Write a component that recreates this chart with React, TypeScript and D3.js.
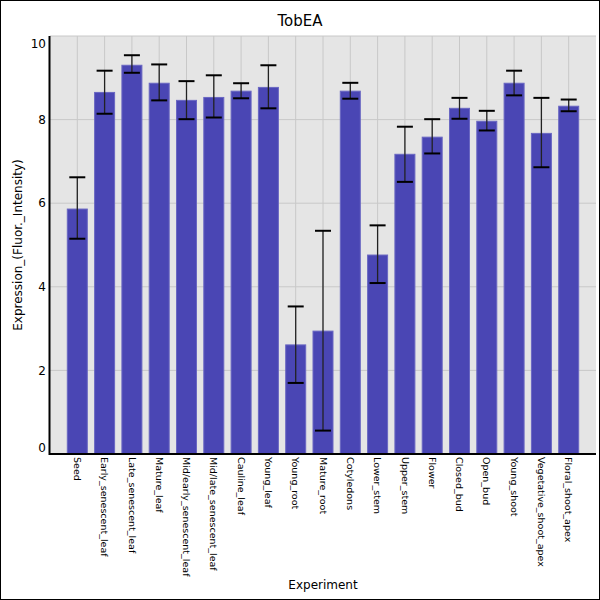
import { useEffect, useRef } from 'react';
import * as d3 from 'd3';

const experiments = [
  'Seed', 'Early_senescent_leaf', 'Late_senescent_leaf', 'Mature_leaf',
  'Mid/early_senescent_leaf', 'Mid/late_senescent_leaf', 'Cauline_leaf', 'Young_leaf',
  'Young_root', 'Mature_root', 'Cotyledons', 'Lower_stem', 'Upper_stem', 'Flower',
  'Closed_bud', 'Open_bud', 'Young_shoot', 'Vegetative_shoot_apex', 'Floral_shoot_apex',
];
const means = [5.86, 8.65, 9.3, 8.87, 8.46, 8.53, 8.68, 8.77, 2.61, 2.94, 8.68, 4.76, 7.17, 7.58, 8.27, 7.96, 8.87, 7.67, 8.32];
const upper = [6.62, 9.17, 9.54, 9.32, 8.92, 9.06, 8.87, 9.3, 3.53, 5.34, 8.88, 5.47, 7.83, 8.01, 8.52, 8.21, 9.17, 8.52, 8.48];
const lower = [5.15, 8.14, 9.12, 8.46, 8.01, 8.05, 8.51, 8.27, 1.7, 0.56, 8.5, 4.09, 6.51, 7.19, 8.02, 7.74, 8.58, 6.86, 8.2];
const yTicks = [0, 2, 4, 6, 8, 10];

const W = 600;
const H = 600;
const font = 'DejaVu Sans, sans-serif';

export default function App() {
  const ref = useRef<SVGSVGElement>(null);

  useEffect(() => {
    const svg = d3.select(ref.current);
    svg.selectAll('*').remove();

    const left = 50, right = 596, top = 36, bottom = 454;

    const x = d3.scaleLinear().domain([0, experiments.length + 1]).range([left, right]);
    const y = d3.scaleLinear().domain([0, 10]).range([bottom, top]);
    const barW = 20;

    svg.append('rect').attr('x', 0.5).attr('y', 0.5).attr('width', W - 1).attr('height', H - 1)
      .attr('fill', '#fff').attr('stroke', '#000');

    svg.append('rect').attr('x', left).attr('y', top).attr('width', right - left).attr('height', bottom - top)
      .attr('fill', '#e5e5e5');

    // grid
    const grid = svg.append('g').attr('stroke', '#c8c8c8').attr('stroke-width', 1);
    grid.selectAll('line.h').data(yTicks).join('line').attr('class', 'h')
      .attr('x1', left).attr('x2', right)
      .attr('y1', (d) => y(d)).attr('y2', (d) => y(d));
    grid.selectAll('line.v').data(experiments).join('line').attr('class', 'v')
      .attr('x1', (_d, i) => x(i + 1)).attr('x2', (_d, i) => x(i + 1))
      .attr('y1', top).attr('y2', bottom);

    // bars
    svg.append('g').selectAll('rect').data(means).join('rect')
      .attr('x', (_d, i) => x(i + 1) - barW / 2)
      .attr('y', (d) => y(d))
      .attr('width', barW)
      .attr('height', (d) => y(0) - y(d))
      .attr('fill', '#4a46b4')
      .attr('stroke', '#6a67c2')
      .attr('stroke-width', 1);

    // error bars
    const err = svg.append('g');
    experiments.forEach((_e, i) => {
      const cx = x(i + 1);
      err.append('line').attr('x1', cx).attr('x2', cx)
        .attr('y1', y(upper[i])).attr('y2', y(lower[i]))
        .attr('stroke', '#222').attr('stroke-width', 1.3);
      [upper[i], lower[i]].forEach((v) => {
        err.append('line').attr('x1', cx - 8).attr('x2', cx + 8)
          .attr('y1', y(v)).attr('y2', y(v))
          .attr('stroke', '#000').attr('stroke-width', 2);
      });
    });

    // axes lines
    svg.append('line').attr('x1', left - 0.5).attr('x2', left - 0.5).attr('y1', top).attr('y2', bottom + 1)
      .attr('stroke', '#000').attr('stroke-width', 2);
    svg.append('line').attr('x1', left - 1).attr('x2', right).attr('y1', bottom).attr('y2', bottom)
      .attr('stroke', '#000').attr('stroke-width', 2);

    // y tick labels (end labels kept inside the plot height)
    svg.append('g').selectAll('text').data(yTicks).join('text')
      .attr('x', 46)
      .attr('y', (d) => (d === 10 ? y(d) + 8 : d === 0 ? y(d) - 6 : y(d)))
      .attr('dy', '0.35em')
      .attr('text-anchor', 'end')
      .attr('font-family', font).attr('font-size', 12)
      .text((d) => d);

    // x tick labels
    svg.append('g').selectAll('text').data(experiments).join('text')
      .attr('transform', (_d, i) => `translate(${x(i + 1)},457) rotate(90)`)
      .attr('dy', '0.35em')
      .attr('font-family', font).attr('font-size', 9.5)
      .text((d) => d);

    svg.append('text').attr('x', 300).attr('y', 26).attr('text-anchor', 'middle')
      .attr('font-family', font).attr('font-size', 15).text('TobEA');

    svg.append('text').attr('x', (left + right) / 2).attr('y', 589).attr('text-anchor', 'middle')
      .attr('font-family', font).attr('font-size', 12).text('Experiment');

    svg.append('text').attr('transform', `translate(22,${(top + bottom) / 2}) rotate(-90)`)
      .attr('text-anchor', 'middle')
      .attr('font-family', font).attr('font-size', 12).text('Expression_(Fluor._Intensity)');
  }, []);

  return (
    <svg ref={ref} width={W} height={H} style={{ position: 'absolute', left: 0, top: 0 }} />
  );
}
